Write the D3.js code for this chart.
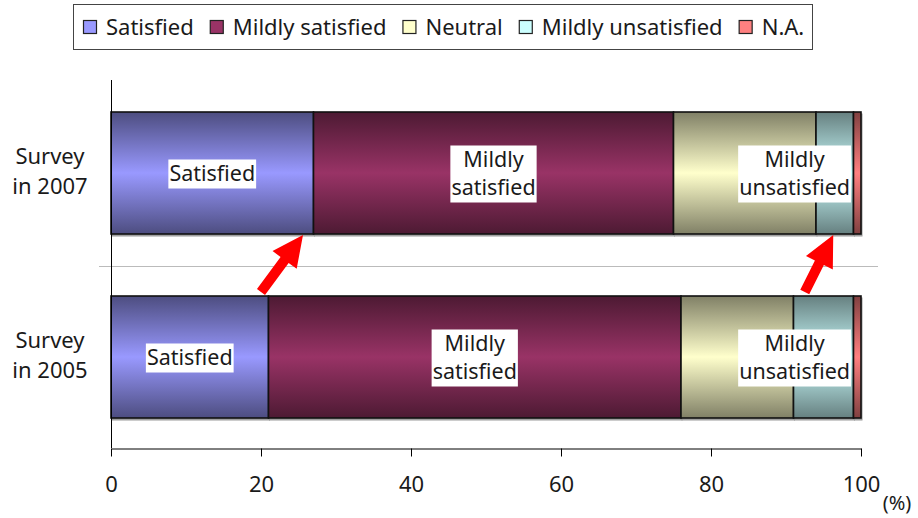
<!DOCTYPE html>
<html>
<head>
<meta charset="utf-8">
<script src="https://cdn.jsdelivr.net/npm/d3@7"></script>
<style>
  html, body { margin: 0; padding: 0; background: #fff; }
  svg { display: block; font-family: "Noto Sans", "Open Sans", sans-serif; }
</style>
</head>
<body>
<svg id="chart" width="918" height="518"></svg>
<script>
// Survey categories (top to bottom) and their two-line labels
const surveys = ["2007", "2005"];
const surveyLabels = [["Survey", "in 2007"], ["Survey", "in 2005"]];

// Response groups, in stacking order
const responses = ["Satisfied", "Mildly satisfied", "Neutral", "Mildly unsatisfied", "N.A."];
const responseColors = ["#9999FF", "#993366", "#FFFFCC", "#CCFFFF", "#FF8080"];

// Share of respondents (%) per response, one array per survey
const values2007 = [27, 48, 19, 5, 1];
const values2005 = [21, 55, 15, 8, 1];
const seriesBySurvey = { "2007": values2007, "2005": values2005 };

// Which segments carry an in-bar label (text lines)
const segmentLabels = [["Satisfied"], ["Mildly", "satisfied"], null, ["Mildly", "unsatisfied"], null];

// Axis ticks
const xTicks = [0, 20, 40, 60, 80, 100];

// Change arrows: from the 2005 bar up to the 2007 bar (x in %)
const arrowFrom = [20, 92.5];
const arrowTo = [25.6, 96.3];

const svg = d3.select("#chart");
const margin = { left: 111, right: 861, top: 80, bottom: 448 };

const x = d3.scaleLinear().domain([0, 100]).range([margin.left, margin.right]);
const y = d3.scaleBand().domain(surveys).range([margin.top + 1, margin.bottom + 1])
  .paddingInner(0.337).paddingOuter(0.337 / 2);

// Vertical gradients: darker edges, full colour in the middle
const defs = svg.append("defs");
responseColors.forEach((c, i) => {
  const g = defs.append("linearGradient").attr("id", "grad" + i)
    .attr("x1", 0).attr("y1", 0).attr("x2", 0).attr("y2", 1);
  const dark = d3.interpolateRgb(c, "#000")(0.5);
  g.append("stop").attr("offset", "0%").attr("stop-color", dark);
  g.append("stop").attr("offset", "50%").attr("stop-color", c);
  g.append("stop").attr("offset", "100%").attr("stop-color", dark);
});

// Stack the data
const rows = surveys.map(s => {
  const vals = seriesBySurvey[s];
  let acc = 0;
  return vals.map((v, i) => {
    const seg = { survey: s, i, v, x0: acc, x1: acc + v };
    acc += v;
    return seg;
  });
});
const segments = rows.flat();

// Legend
const fs = 22;
const legend = svg.append("g");
legend.append("rect")
  .attr("x", 73.5).attr("y", 4.5).attr("width", 739).attr("height", 45)
  .attr("fill", "#fff").attr("stroke", "#444").attr("stroke-width", 1);
let lx = 83;
responses.forEach((r, i) => {
  legend.append("rect")
    .attr("x", lx + 0.5).attr("y", 20.5).attr("width", 13).attr("height", 13)
    .attr("fill", responseColors[i]).attr("stroke", "#222").attr("stroke-width", 1.2);
  const t = legend.append("text")
    .attr("x", lx + 23).attr("y", 35)
    .attr("font-size", fs).attr("fill", "#1a1a1a").text(r);
  lx += 23 + t.node().getComputedTextLength() + 16;
});

// Separator between the two surveys
const sepY = Math.round((y("2007") + y.bandwidth() + y("2005")) / 2) + 1.5;
svg.append("line")
  .attr("x1", 99).attr("x2", 878)
  .attr("y1", sepY).attr("y2", sepY)
  .attr("stroke", "#bbb").attr("stroke-width", 1);

// Bar shadows
svg.append("g").selectAll("rect").data(segments).join("rect")
  .attr("x", d => x(d.x0) + 1)
  .attr("y", d => y(d.survey) + 2)
  .attr("width", d => x(d.x1) - x(d.x0))
  .attr("height", y.bandwidth())
  .attr("fill", "#aaa").attr("stroke", "#999").attr("stroke-width", 1);

// Bars
svg.append("g").selectAll("rect").data(segments).join("rect")
  .attr("x", d => x(d.x0))
  .attr("y", d => y(d.survey))
  .attr("width", d => x(d.x1) - x(d.x0))
  .attr("height", y.bandwidth())
  .attr("fill", d => `url(#grad${d.i})`)
  .attr("stroke", "#111").attr("stroke-width", 1.6);

// In-bar labels on white boxes
const lfs = 21.5;
const lineH = 28;
const labelG = svg.append("g");
segments.filter(d => segmentLabels[d.i]).forEach(d => {
  const lines = segmentLabels[d.i];
  const g = labelG.append("g");
  const t = g.append("text").attr("font-size", lfs).attr("fill", "#1a1a1a").attr("text-anchor", "middle");
  lines.forEach((ln, k) => t.append("tspan").attr("x", 0).attr("y", k * lineH).text(ln));
  const bb = t.node().getBBox();
  const w = bb.width + 2;
  const h = lines.length * lineH + 1;
  let cx = (x(d.x0) + x(d.x1)) / 2;
  cx = Math.min(cx, x(100) - 10 - w / 2);
  const cy = y(d.survey) + y.bandwidth() / 2 + 1;
  const top = cy - h / 2;
  g.insert("rect", "text")
    .attr("x", -w / 2).attr("y", 0).attr("width", w).attr("height", h).attr("fill", "#fff");
  t.attr("transform", `translate(0, ${lineH / 2 + 7})`);
  g.attr("transform", `translate(${cx}, ${top})`);
});

// Axes
svg.append("line").attr("x1", x(0) + 0.5).attr("x2", x(0) + 0.5)
  .attr("y1", margin.top).attr("y2", margin.bottom)
  .attr("stroke", "#000").attr("stroke-width", 1);

const xAxis = svg.append("g").attr("transform", `translate(0, ${margin.bottom + 0.5})`)
  .call(d3.axisBottom(x).tickValues(xTicks).tickSize(8).tickPadding(20).tickSizeOuter(0));
xAxis.select(".domain").attr("stroke", "#000");
xAxis.selectAll(".tick line").attr("stroke", "#000");
xAxis.selectAll(".tick text").attr("font-size", 22).attr("fill", "#1a1a1a")
  .attr("font-family", "'Noto Sans', sans-serif");

svg.append("text").attr("x", 897).attr("y", 510).attr("text-anchor", "middle")
  .attr("font-size", 20).attr("fill", "#1a1a1a").text("(%)");

// Category labels
surveys.forEach((s, i) => {
  const t = svg.append("text").attr("text-anchor", "middle").attr("font-size", fs).attr("fill", "#1a1a1a");
  const cy = y(s) + y.bandwidth() / 2;
  surveyLabels[i].forEach((ln, k) => {
    t.append("tspan").attr("x", 50).attr("y", cy - 9 + k * 30).text(ln);
  });
});

// Red arrows from the 2005 bar up to the 2007 bar
const arrowG = svg.append("g");
arrowFrom.forEach((v, i) => {
  const x1 = x(v), y1 = y("2005") - 4;
  const x2 = x(arrowTo[i]), y2 = y("2007") + y.bandwidth() + 1;
  const L = Math.hypot(x2 - x1, y2 - y1);
  const ang = Math.atan2(y2 - y1, x2 - x1) * 180 / Math.PI;
  const sw = 5, hw = 15, hl = 31;
  const pts = [[0, -sw], [L - hl, -sw], [L - hl, -hw], [L, 0], [L - hl, hw], [L - hl, sw], [0, sw]];
  arrowG.append("polygon")
    .attr("points", pts.map(p => p.join(",")).join(" "))
    .attr("fill", "#ff0000")
    .attr("transform", `translate(${x1},${y1}) rotate(${ang})`);
});
</script>
</body>
</html>
